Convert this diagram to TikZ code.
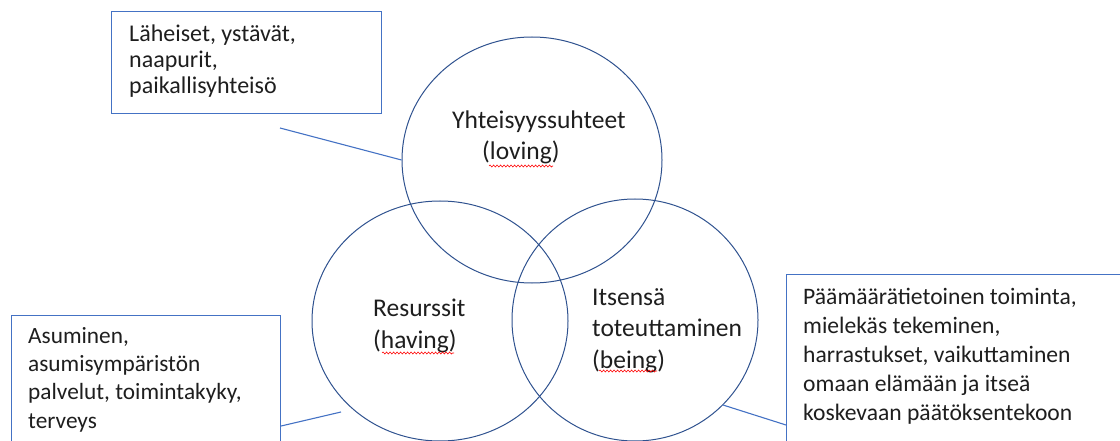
\documentclass[tikz,border=0pt]{standalone}
\usepackage{fontspec}
\setmainfont{Carlito}
\usetikzlibrary{shapes.geometric, decorations.pathmorphing}
\definecolor{ringblue}{HTML}{2F528F}
\definecolor{boxblue}{HTML}{4472C4}
\definecolor{inkgray}{HTML}{1E1E1E}
\tikzset{
  ring/.style={ellipse, draw=ringblue, line width=1pt, inner sep=0pt},
  infobox/.style={rectangle, draw=boxblue, line width=1.1pt, inner sep=0pt, anchor=north west},
  infotext/.style={anchor=base west, align=left, inner sep=0pt, text=inkgray},
  lead/.style={draw=boxblue, line width=1.1pt},
  spellmark/.style={draw=red, line width=0.6pt, decorate,
    decoration={snake, amplitude=1pt, segment length=3.5pt}}
}

\begin{document}
\begin{tikzpicture}[x=1pt, y=-1pt]
  \useasboundingbox (0,0) rectangle (1120,441);

  % the three circles
  \node[ring, minimum width=260pt, minimum height=246pt] (loving) at (532,160) {};
  \node[ring, minimum width=256pt, minimum height=240pt] (having) at (440,321) {};
  \node[ring, minimum width=246pt, minimum height=242pt] (being) at (635,320) {};

  % (base anchor sits on the last line)
  \node[infotext, font=\fontsize{25.5}{31.5}\selectfont] (lovingtext) at (452,160)
    {Yhteisyyssuhteet\\\hspace{30pt}(loving)};
  \node[infotext, font=\fontsize{25.5}{31.5}\selectfont] (havingtext) at (373,348)
    {Resurssit\\(having)};
  \node[infotext, font=\fontsize{25.5}{31.5}\selectfont] (beingtext) at (592,368)
    {Itsensä\\toteuttaminen\\(being)};

  % spell check marks
  \draw[spellmark] (489,166) -- (553,166);
  \draw[spellmark] (382,353) -- (454,353);
  \draw[spellmark] (599,371) -- (657,371);

  % text boxes
  \node[infobox, minimum width=270pt, minimum height=102pt] (lovingbox) at (111,11) {};
  \node[infotext, font=\fontsize{24}{26}\selectfont] (lovingnote) at (129,94)
    {Läheiset, ystävät,\\naapurit,\\paikallisyhteisö};
  \node[infobox, minimum width=269pt, minimum height=160pt] (havingbox) at (11,315) {};
  \node[infotext, font=\fontsize{23.3}{28.3}\selectfont] (havingnote) at (28,428)
    {Asuminen,\\asumisympäristön\\palvelut, toimintakyky,\\terveys};
  \node[infobox, minimum width=360pt, minimum height=200pt] (beingbox) at (786,274) {};
  \node[infotext, font=\fontsize{23.6}{29}\selectfont] (beingnote) at (803,420)
    {Päämäärätietoinen toiminta,\\mielekäs tekeminen,\\harrastukset, vaikuttaminen\\omaan elämään ja itseä\\koskevaan päätöksentekoon};

  % leader lines
  \coordinate (lovingtail) at (280,128);
  \draw[lead] (lovingtail) -- (loving.west);
  \coordinate (havingtip) at (341,412);
  \draw[lead] ([yshift=-111pt]havingbox.north east) -- (havingtip);
  \coordinate (beingtip) at (723,405);
  \draw[lead] ([yshift=-151pt]beingbox.north west) -- (beingtip);
\end{tikzpicture}
\end{document}
